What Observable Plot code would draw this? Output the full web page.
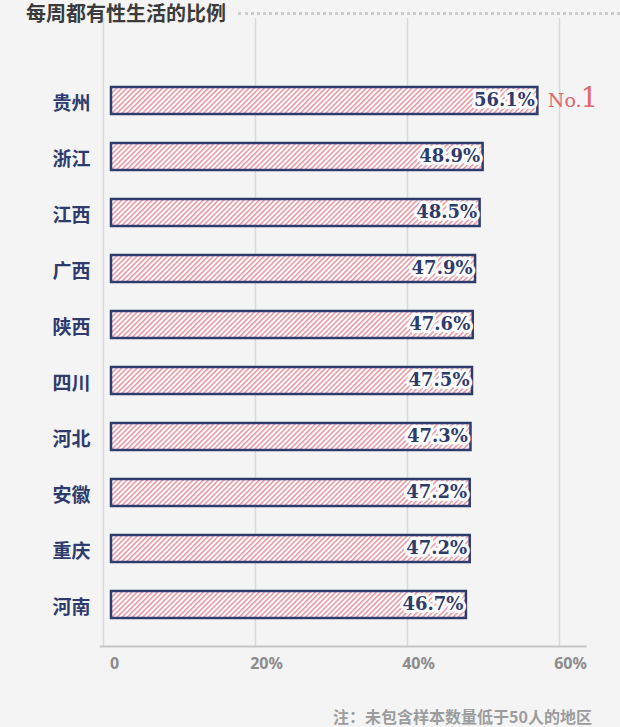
<!DOCTYPE html>
<html>
<head>
<meta charset="utf-8">
<script src="https://cdn.jsdelivr.net/npm/d3@7"></script>
<script src="https://cdn.jsdelivr.net/npm/@observablehq/plot@0.6"></script>
<style>
  body { margin:0; background:#f4f4f4; width:620px; height:727px; position:relative; overflow:hidden;
         font-family:"Noto Sans CJK SC","Noto Sans",sans-serif; }
  #title { position:absolute; left:26px; top:3px; height:20px; line-height:20px; font-size:20px;
           font-weight:bold; color:#3b3b3b; white-space:nowrap; }
  #dots { position:absolute; left:238px; right:0; top:12px; border-top:3px dotted #cdcdcd; }
  #chart { position:absolute; left:0; top:0; }
  #caption { position:absolute; right:28px; top:706px; line-height:20px; font-size:16px;
             font-weight:bold; color:#9c9c9c; white-space:nowrap; }
</style>
</head>
<body>
<div id="chart"></div>
<div id="title">每周都有性生活的比例</div>
<div id="dots"></div>
<div id="caption">注：未包含样本数量低于50人的地区</div>
<script>
const regions = ["贵州","浙江","江西","广西","陕西","四川","河北","安徽","重庆","河南"];
const shares  = [56.1, 48.9, 48.5, 47.9, 47.6, 47.5, 47.3, 47.2, 47.2, 46.7];
const xTicks = [0, 20, 40, 60];
const xTickLabels = ["0", "20%", "40%", "60%"];
const badgeRegion = "贵州";
const badgePrefix = "No.";
const badgeRank = "1";

const data = regions.map((r, i) => ({region: r, share: shares[i]}));
const badge = data.filter(d => d.region === badgeRegion);

const navy = "#2e3b6d";

const chart = Plot.plot({
  width: 620,
  height: 680,
  marginTop: 58,
  marginBottom: 34,
  marginLeft: 111,
  marginRight: 53,
  style: {background: "transparent", fontFamily: "'Noto Sans CJK SC', sans-serif", overflow: "visible"},
  x: {domain: [0, 60], axis: null, label: null},
  y: {domain: regions, paddingInner: 0.52, paddingOuter: 0.448, axis: null, label: null},
  marks: [
    Plot.ruleX(xTicks, {stroke: "#d8d8d8", strokeWidth: 1.5, dx: -8, insetTop: -40}),
    Plot.frame({anchor: "bottom", stroke: "#c6c6c6", strokeWidth: 2, insetLeft: -11, insetRight: -18}),
    Plot.barX(data, {x: "share", y: "region", fill: "url(#hatch)", stroke: navy, strokeWidth: 2.5}),
    Plot.text(data, {x: "share", y: "region", text: d => d.share.toFixed(1) + "%",
      textAnchor: "end", dx: -3, dy: -1, fill: navy, stroke: "white", strokeWidth: 6,
      fontSize: 18, fontWeight: "bold", fontFamily: "DejaVu Serif"}),
    Plot.text(badge, {x: "share", y: "region", text: () => badgePrefix, textAnchor: "start",
      dx: 10, fill: "#e0646c", fontSize: 19, fontFamily: "DejaVu Serif"}),
    Plot.text(badge, {x: "share", y: "region", text: () => badgeRank, textAnchor: "start",
      dx: 43, dy: -2.3, fill: "#e0646c", fontSize: 27, fontFamily: "DejaVu Serif"}),
    Plot.axisY({tickSize: 0, tickPadding: 21, fontSize: 19, fontWeight: "bold", fill: navy,
      dy: 3, label: null, fontFamily: "'Noto Sans CJK SC', sans-serif"}),
    Plot.axisX(xTicks, {tickSize: 0, tickPadding: 11, fontSize: 16, fontWeight: "bold",
      fill: "#8c8c8c", dx: 3, label: null, tickFormat: d => xTickLabels[xTicks.indexOf(d)],
      fontFamily: "'Noto Sans', sans-serif"})
  ]
});

const defs = d3.select(chart).insert("defs", ":first-child");
const pat = defs.append("pattern").attr("id", "hatch").attr("patternUnits", "userSpaceOnUse")
  .attr("width", 3.6).attr("height", 3.6).attr("patternTransform", "rotate(45)");
pat.append("rect").attr("width", 3.6).attr("height", 3.6).attr("fill", "white");
pat.append("line").attr("x1", 0.8).attr("y1", 0).attr("x2", 0.8).attr("y2", 3.6)
  .attr("stroke", "#e6929d").attr("stroke-width", 1.5);

document.getElementById("chart").appendChild(chart);
</script>
</body>
</html>
